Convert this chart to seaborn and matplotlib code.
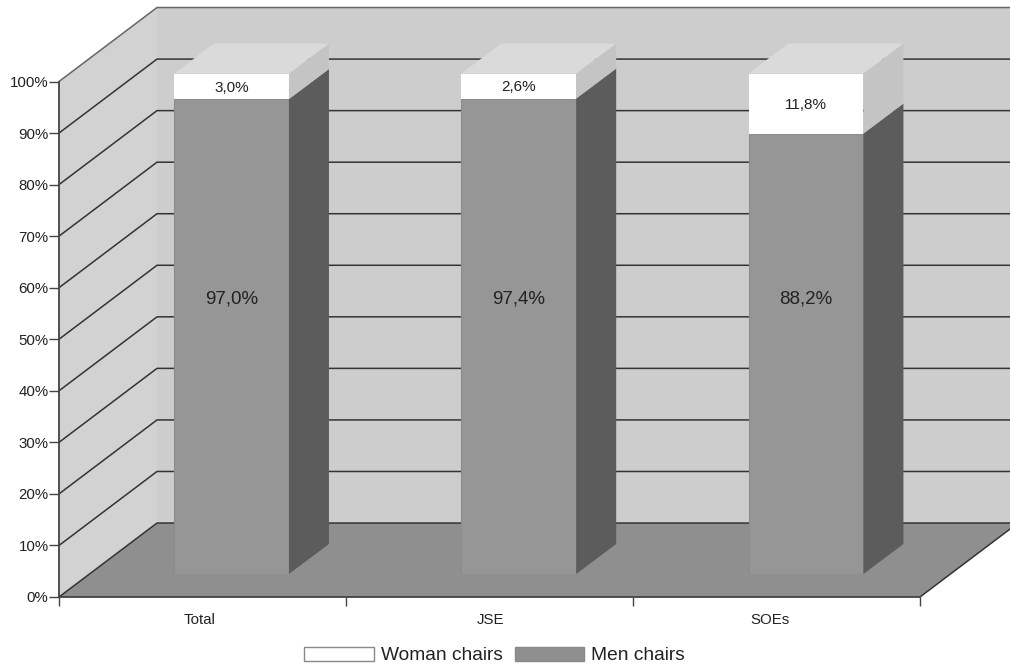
import matplotlib
matplotlib.use('Agg')
import matplotlib.pyplot as plt
from matplotlib.patches import Patch
import pandas as pd
import seaborn as sns

# Data
categories = ['Total', 'JSE', 'SOEs']
men_labels = ['97,0%', '97,4%', '88,2%']
women_labels = ['3,0%', '2,6%', '11,8%']
# bar heights as they are drawn in the chart (share of the bar's scale)
men_drawn = [94.9, 95.0, 88.0]
women_drawn = [5.1, 5.0, 12.0]
y_ticks = [0, 10, 20, 30, 40, 50, 60, 70, 80, 90, 100]
y_tick_labels = ['0%', '10%', '20%', '30%', '40%', '50%', '60%', '70%', '80%', '90%', '100%']

W, H = 1010, 664
TEXT = '#222222'
LINE = '#333333'

sns.set_style('white')
plt.rcParams['font.family'] = ['Liberation Sans', 'DejaVu Sans']

fig = plt.figure(figsize=(W / 100, H / 100), dpi=100)


def px_axes(left, right, top, bottom, **kw):
    return fig.add_axes([left / W, (H - bottom) / H, (right - left) / W, (bottom - top) / H], **kw)


# Walls and floor, front plane of the box
ax = px_axes(59, 920, 81.5, 597)
ax.set_xlim(0, 3)
ax.set_ylim(0, 100)
ax.patch.set_visible(False)

dx = 98 / 287
dy = 14.35

ax.fill([0, dx, dx, 0], [0, dy, 100 + dy, 100], color='#d2d2d2', lw=0, clip_on=False, zorder=1)
ax.fill([dx, 3 + dx, 3 + dx, dx], [dy, dy, 100 + dy, 100 + dy], color='#cdcdcd', lw=0, clip_on=False, zorder=1)
ax.fill([0, dx, 3 + dx, 3], [0, dy, dy, 0], color='#8f8f8f', lw=0, clip_on=False, zorder=2)

for t in y_ticks:
    color = '#666666' if t == 100 else LINE
    ax.plot([0, dx, 3 + dx], [t, t + dy, t + dy], color=color, lw=1.1, clip_on=False, zorder=3)
ax.plot([3, 3 + dx], [0, dy], color=LINE, lw=1.1, clip_on=False, zorder=3)

sns.despine(ax=ax, top=True, right=True)
for side in ['left', 'bottom']:
    ax.spines[side].set_color('#444444')
    ax.spines[side].set_linewidth(1.3)
    ax.spines[side].set_zorder(4)

ax.set_yticks(y_ticks)
ax.set_yticklabels(y_tick_labels, fontsize=10.8, color=TEXT)
ax.tick_params(axis='y', left=True, length=7, width=1, color='#444444', pad=0.5)
ax.set_xticks([0, 1, 2, 3])
ax.set_xticklabels([])
ax.tick_params(axis='x', which='major', bottom=True, length=6.5, width=1, color='#444444')
ax.set_xticks([0.49, 1.505, 2.477], minor=True)
ax.set_xticklabels(categories, minor=True, fontsize=10.8, color=TEXT)
ax.tick_params(axis='x', which='minor', bottom=False, pad=9.5)

# Bars sit a bit inside the box, they have their own scale
bar_ax = px_axes(87.9, 949.6, 73.5, 574)
bar_ax.patch.set_visible(False)
bar_ax.axis('off')

df = pd.DataFrame({'cat': categories, 'men': men_drawn, 'women': women_drawn})
sns.barplot(data=df, x='cat', y='men', color='#969696', saturation=1, width=0.4, ax=bar_ax,
            edgecolor='#8c8c8c', linewidth=0.8)
n_men = len(bar_ax.patches)
sns.barplot(data=df, x='cat', y='women', bottom=df['men'], color='white', saturation=1, width=0.4, ax=bar_ax,
            linewidth=0)
bar_ax.set_xlim(-0.5, 2.5)
bar_ax.set_ylim(0, 100)
bar_ax.axis('off')

bdx = 40 / 287.25
bdy = 30 / 5.005

# 3D side and top of each bar, taken from the drawn patches
for i, bar in enumerate(bar_ax.patches):
    x0, y0 = bar.get_x(), bar.get_y()
    x1, y1 = x0 + bar.get_width(), y0 + bar.get_height()
    side_color = '#5c5c5c' if i < n_men else '#c4c4c4'
    bar_ax.fill([x1, x1 + bdx, x1 + bdx, x1], [y0, y0 + bdy, y1 + bdy, y1], color=side_color, lw=0, clip_on=False, zorder=3)
    if i >= n_men:
        bar_ax.fill([x0, x0 + bdx, x1 + bdx, x1], [y1, y1 + bdy, y1 + bdy, y1], color='#dadada', lw=0, clip_on=False, zorder=3)

for i, cat in enumerate(categories):
    bar_ax.text(i, 55, men_labels[i], ha='center', va='center', fontsize=13.5, color=TEXT, zorder=5)
    bar_ax.text(i, men_drawn[i] + women_drawn[i] / 2 - 0.25, women_labels[i], ha='center', va='center',
                fontsize=11, color=TEXT, zorder=5)

handles = [Patch(facecolor='white', edgecolor='#888888', lw=1, label='Woman chairs'),
           Patch(facecolor='#8f8f8f', edgecolor='#888888', lw=1, label='Men chairs')]
fig.legend(handles=handles, loc='center', bbox_to_anchor=(494.5 / W, (H - 655.5) / H), ncol=2, frameon=False,
           fontsize=13.8, handlelength=3.65, handleheight=0.8, handletextpad=0.33, columnspacing=0.62,
           borderpad=0, borderaxespad=0, labelcolor=TEXT)

fig.savefig('out.png', dpi=100, facecolor='white')
